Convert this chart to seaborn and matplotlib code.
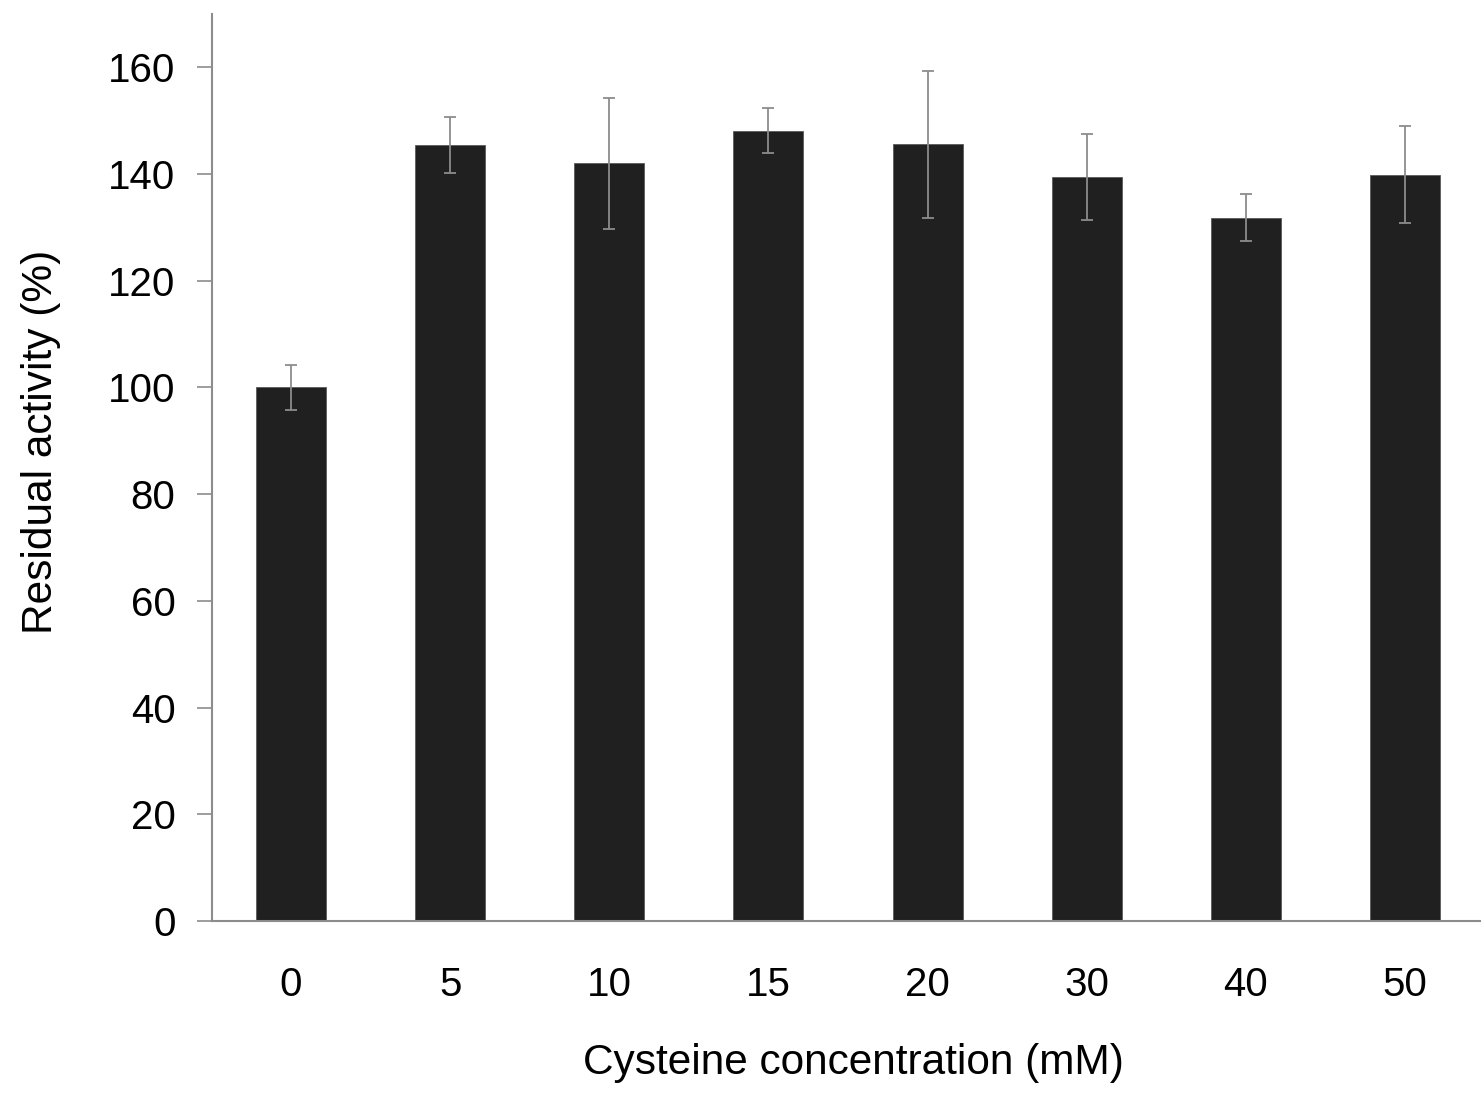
import matplotlib
matplotlib.use("Agg")
import matplotlib.pyplot as plt
import seaborn as sns
import numpy as np
import pandas as pd

# Data
concentrations = ["0", "5", "10", "15", "20", "30", "40", "50"]
activity = [100.0, 145.4, 142.0, 148.1, 145.6, 139.5, 131.8, 139.9]
errors = [4.2, 5.25, 12.25, 4.2, 13.75, 8.05, 4.4, 9.1]
y_ticks = [0, 20, 40, 60, 80, 100, 120, 140, 160]

sns.set_theme(style="white")
plt.rcParams["font.family"] = ["Liberation Sans", "DejaVu Sans"]

W, H = 1481, 1108
fig = plt.figure(figsize=(W / 100, H / 100), dpi=100)
ax_left, ax_w = 211.5, 1273
ax = fig.add_axes([ax_left / W, 187 / H, ax_w / W, 907 / H])

df = pd.DataFrame({"conc": concentrations, "act": activity})
sns.barplot(data=df, x="conc", y="act", order=concentrations, color="#202020",
            saturation=1, width=0.44, errorbar=None, ax=ax,
            edgecolor="#5a5a5a", linewidth=0.6)

xpos = np.arange(len(concentrations))
ax.errorbar(xpos, activity, yerr=errors, fmt="none", ecolor="#8c8c8c",
            elinewidth=1.3, capsize=4.3, capthick=1.3, zorder=5)

ax.set_xlim(-0.5, 7.5)
ax.set_ylim(0, 170)
ax.set_yticks(y_ticks)
ax.set_yticklabels([str(t) for t in y_ticks])

for s in ["top", "right"]:
    ax.spines[s].set_visible(False)
for s in ["left", "bottom"]:
    ax.spines[s].set_color("#8c8c8c")
    ax.spines[s].set_linewidth(1.5)

ax.tick_params(axis="y", which="major", left=True, length=11, width=1.2,
               color="#8c8c8c", pad=15, labelsize=29, labelcolor="black")
ax.tick_params(axis="x", which="major", bottom=False, length=0, pad=32.5,
               labelsize=29, labelcolor="black")

ax.set_xlabel("Cysteine concentration (mM)", fontsize=30.5, color="black")
ax.set_ylabel("Residual activity (%)", fontsize=30.5, color="black")
ax.xaxis.label.set_va("center")
ax.yaxis.label.set_va("center")
ax.xaxis.set_label_coords((853 - ax_left) / ax_w, (921 - 1063) / 907)
ax.yaxis.set_label_coords((41 - ax_left) / ax_w, (921 - 442) / 907)

fig.savefig("out.png", dpi=100, facecolor="white")
